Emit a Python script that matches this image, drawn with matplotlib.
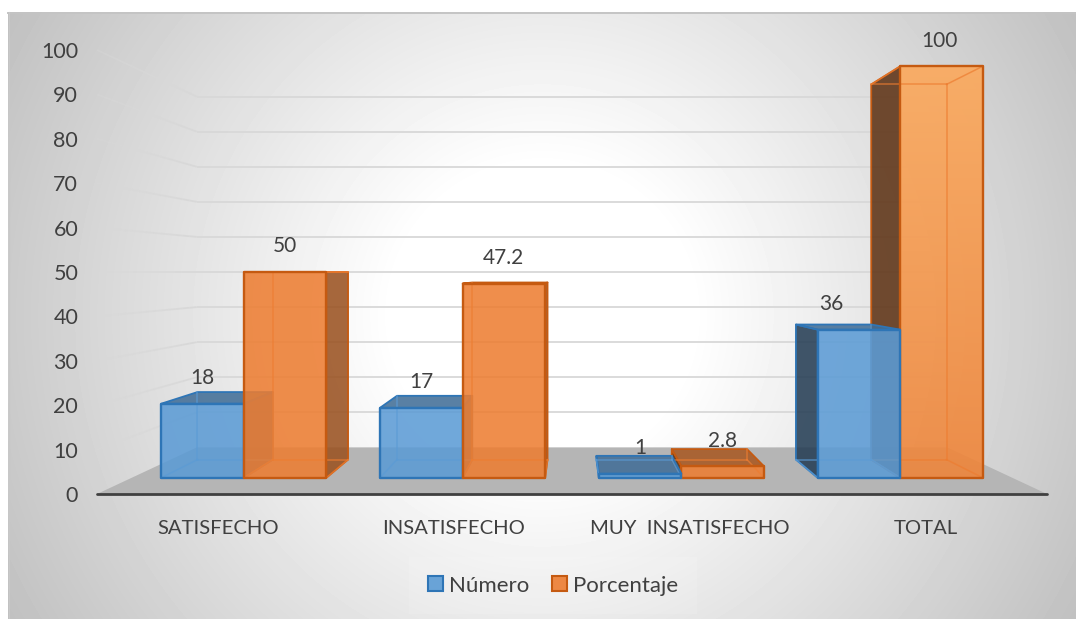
import numpy as np
import matplotlib
matplotlib.use("Agg")
import matplotlib.pyplot as plt
from matplotlib.patches import Polygon, Patch
from matplotlib.colors import to_rgb

categories = ["SATISFECHO", "INSATISFECHO", "MUY  INSATISFECHO", "TOTAL"]
numero = [18, 17, 1, 36]
porcentaje = [50, 47.2, 2.8, 100]
value_ticks = list(range(0, 101, 10))
series_names = ["Número", "Porcentaje"]

BLUE, BLUE_EDGE = "#5B9BD5", "#2E75B6"
ORANGE, ORANGE_EDGE = "#ED7D31", "#C55A11"
INK = "#404040"
FONT = "Lato"

W, H = 1076, 619
plt.rcParams["font.family"] = [FONT, "DejaVu Sans"]
fig = plt.figure(figsize=(W / 100, H / 100), dpi=100, facecolor="white")

# Backdrop: circular grey-to-white fill behind the whole plot
bg = fig.add_axes([0, 0, 1, 1], zorder=0)
bg.set_xlim(0, W); bg.set_ylim(H, 0); bg.axis("off")
px, py = np.meshgrid(np.arange(8, W), np.arange(12, H))
r = np.hypot(px - 542, py - 315)
shade = np.clip(255 - 0.135 * np.clip(r - 150, 0, None), 0, 255) / 255
bg.imshow(shade, cmap="gray", vmin=0, vmax=1, extent=(8, W, H, 12), aspect="auto", interpolation="bilinear")
bg.plot([8, W], [12.5, 12.5], color="#C4C4C4", lw=1.4)
bg.plot([8.5, 8.5], [12, H], color="#C8C8C8", lw=0.8)
bg.set_xlim(0, W); bg.set_ylim(H, 0)

# Chart area: x runs over the category slots, y over the value scale
ax = fig.add_axes([97 / W, 1 - 494 / H, 950 / W, 444 / H], zorder=1)
ax.patch.set_alpha(0)
XMAX, YMAX = len(categories), value_ticks[-1]
VP = (XMAX / 2, YMAX / 2)      # vanishing point of the perspective
WALL_S = 0.79                  # depth scale of the back wall
BAR_FRONT_S, BAR_BACK_S = 0.927, 0.845
BAR_X_SQUEEZE = 0.994          # bars sit slightly closer together than the slots
GAP = 0.65
BAR_W = 1 / (2 + GAP)


def proj(x, v, s, squeeze=1.0):
    return (VP[0] + (x - VP[0]) * s * squeeze, VP[1] + (v - VP[1]) * s)


def shaded(color, f):
    return tuple(c * f for c in to_rgb(color))


def face(points, fc, alpha, ec=None, lw=0.0, z=2):
    p = Polygon(points, closed=True, facecolor=(*to_rgb(fc), alpha),
                edgecolor=ec if ec else "none", linewidth=lw, joinstyle="round",
                clip_on=False, zorder=z)
    ax.add_patch(p)
    return p


# Floor
face([proj(0, 0, 1), proj(XMAX, 0, 1), proj(XMAX, 0, WALL_S), proj(0, 0, WALL_S)], "#B5B5B5", 1.0, z=1)

# Gridlines on the back wall and fading ones on the side wall
GRID = "#D8D8D8"
for v in value_ticks[1:]:
    a, b = proj(0, v, WALL_S), proj(XMAX, v, WALL_S)
    ax.plot([a[0], b[0]], [a[1], b[1]], color=GRID, lw=1.3, clip_on=False, zorder=1.2, solid_capstyle="butt")
    steps = np.linspace(0, 1, 15)
    for t0, t1 in zip(steps[:-1], steps[1:]):
        p0 = proj(0, v, 1 + (WALL_S - 1) * t0)
        p1 = proj(0, v, 1 + (WALL_S - 1) * t1)
        ax.plot([p0[0], p1[0]], [p0[1], p1[1]], color=GRID, lw=1.3, alpha=0.3 + 0.7 * t1,
                clip_on=False, zorder=1.1, solid_capstyle="butt")


def draw_bar(x0, x1, v, color, edge, z):
    f, k, q = BAR_FRONT_S, BAR_BACK_S, BAR_X_SQUEEZE
    fbl, fbr, ftr, ftl = proj(x0, 0, f, q), proj(x1, 0, f, q), proj(x1, v, f, q), proj(x0, v, f, q)
    kbl, kbr, ktr, ktl = proj(x0, 0, k, q), proj(x1, 0, k, q), proj(x1, v, k, q), proj(x0, v, k, q)
    # Faces that are seen through the front one
    face([fbl, fbr, kbr, kbl], color, 0.12, z=z)
    face([kbl, kbr, ktr, ktl], color, 0.12, z=z + 0.01)
    left_out, right_out, top_out = x0 > VP[0], x1 < VP[0], v < VP[1]
    if not left_out:
        face([fbl, kbl, ktl, ftl], color, 0.12, z=z + 0.02)
    if not right_out:
        face([fbr, kbr, ktr, ftr], color, 0.22, z=z + 0.02)
    # Outer side walls, darker when they turn towards the viewer
    if left_out:
        face([fbl, kbl, ktl, ftl], shaded(color, 0.38), 0.85, ec=edge, lw=1.3, z=z + 0.03)
    if right_out:
        face([fbr, kbr, ktr, ftr], shaded(color, 0.64), 0.85, ec=edge, lw=1.3, z=z + 0.03)
    # Top face: dark from above, light from below
    if top_out:
        face([ftl, ftr, ktr, ktl], shaded(color, 0.7), 0.85, ec=edge, lw=1.3, z=z + 0.04)
    elif v > VP[1]:
        face([ftl, ftr, ktr, ktl], color, 0.12, z=z + 0.02)
    # Front face
    face([fbl, fbr, ftr, ftl], color, 0.85, z=z + 0.05)
    if v > VP[1]:
        # Tall bars pick up a highlight towards their top
        ramp = np.zeros((64, 2, 4))
        ramp[..., :3] = (1.0, 0.76, 0.48)
        ramp[..., 3] = np.linspace(0.65, 0.1, 64)[:, None]
        im = ax.imshow(ramp, extent=(ftl[0], ftr[0], fbl[1], ftl[1]), origin="upper", aspect="auto",
                       zorder=z + 0.06, interpolation="bilinear")
        im.set_clip_on(False)
    # Hidden edges show faintly through the translucent front
    hidden = [(kbl, kbr), (fbl, kbl), (fbr, kbr)]
    if not left_out:
        hidden.append((ktl, kbl))
    if not right_out:
        hidden.append((kbr, ktr))
    if not top_out:
        hidden += [(ktr, ktl), (ftl, ktl), (ftr, ktr)]
    for p, p2 in hidden:
        ax.plot([p[0], p2[0]], [p[1], p2[1]], color=color, alpha=0.7, lw=1.1, clip_on=False, zorder=z + 0.07)
    # Outline of the front face
    face([fbl, fbr, ftr, ftl], color, 0.0, ec=edge, lw=1.7, z=z + 0.08)


for i in range(len(categories)):
    centre = i + 0.5
    if centre < VP[0]:
        z_blue, z_orange = 3 + i, 3.5 + i
    else:
        z_blue, z_orange = 3.5 + i, 3 + i
    draw_bar(centre - BAR_W, centre, numero[i], BLUE, BLUE_EDGE, z_blue)
    draw_bar(centre, centre + BAR_W, porcentaje[i], ORANGE, ORANGE_EDGE, z_orange)

# Value labels sit just above the front top edge of each bar
LABEL_GAP = 25.5
for i in range(len(categories)):
    centre = i + 0.5
    for x_mid, v, extra_dx in ((centre - BAR_W / 2, numero[i], -28 if i == 3 else 0),
                               (centre + BAR_W / 2, porcentaje[i], -2 if i == 3 else 0)):
        anchor = proj(x_mid, v, BAR_FRONT_S, BAR_X_SQUEEZE)
        ax.annotate(f"{v:g}", anchor, xytext=(extra_dx * 0.72, LABEL_GAP * 0.72),
                    textcoords="offset points", ha="center", va="center",
                    fontsize=15, color=INK, zorder=20, annotation_clip=False)

ax.set_xlim(0, XMAX); ax.set_ylim(0, YMAX)
ax.set_xticks([VP[0] + (i + 0.5 - VP[0]) * BAR_X_SQUEEZE for i in range(len(categories))], categories)
ax.set_yticks(value_ticks, [str(v) for v in value_ticks])
ax.tick_params(axis="y", length=0, pad=13.5, labelsize=15.5, labelcolor=INK)
ax.tick_params(axis="x", length=0, pad=18.5, labelsize=14.6, labelcolor=INK)
for name, spine in ax.spines.items():
    spine.set_visible(name == "bottom")
ax.spines["bottom"].set_color(INK)
ax.spines["bottom"].set_linewidth(2.0)
ax.spines["bottom"].set_capstyle("round")
ax.spines["bottom"].set_zorder(15)

# Legend along the bottom edge
handles = [Patch(facecolor=(*to_rgb(BLUE), 0.9), edgecolor=BLUE_EDGE, linewidth=1.5, label=series_names[0]),
           Patch(facecolor=(*to_rgb(ORANGE), 0.9), edgecolor=ORANGE_EDGE, linewidth=1.5, label=series_names[1])]
leg = fig.legend(handles=handles, loc="center", bbox_to_anchor=(553 / W, 1 - 585.5 / H), ncol=2,
                 fontsize=16, labelcolor=INK, frameon=True, framealpha=0.12, facecolor="white",
                 edgecolor="none", fancybox=False, handlelength=0.68, handleheight=0.68,
                 handletextpad=0.27, columnspacing=1.0, borderpad=0.85, borderaxespad=0)
leg.set_zorder(5)

fig.savefig("out.png", dpi=100, facecolor="white")
